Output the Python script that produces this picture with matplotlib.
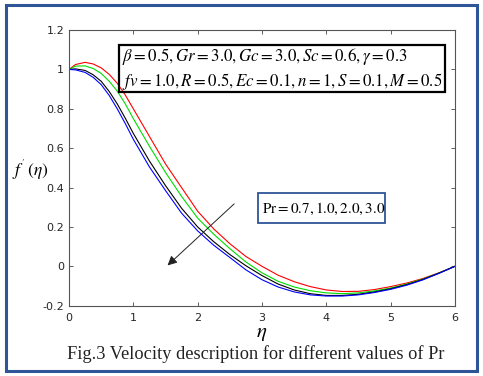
import matplotlib
matplotlib.use("Agg")
import matplotlib.pyplot as plt
from matplotlib.patches import Rectangle

eta = [0, 0.1, 0.25, 0.375, 0.5, 0.625, 0.75, 0.875, 1.0, 1.25, 1.5, 1.75, 2.0, 2.25, 2.5, 2.75, 3.0,
       3.25, 3.5, 3.75, 4.0, 4.25, 4.5, 4.75, 5.0, 5.25, 5.5, 5.75, 6.0]
f_pr07 = [1.0, 1.025, 1.036, 1.028, 1.008, 0.975, 0.93, 0.87, 0.80, 0.66, 0.52, 0.40, 0.28, 0.19, 0.115, 0.05, 0.0,
          -0.045, -0.078, -0.103, -0.12, -0.128, -0.127, -0.118, -0.103, -0.085, -0.062, -0.033, 0.0]
f_pr10 = [1.0, 1.017, 1.018, 1.005, 0.98, 0.94, 0.89, 0.825, 0.75, 0.61, 0.477, 0.355, 0.245, 0.163, 0.09, 0.022, -0.033,
          -0.076, -0.105, -0.124, -0.135, -0.139, -0.135, -0.125, -0.11, -0.09, -0.065, -0.034, 0.0]
f_pr20 = [1.0, 1.003, 0.995, 0.973, 0.94, 0.888, 0.825, 0.752, 0.675, 0.535, 0.41, 0.295, 0.20, 0.125, 0.06, 0.003, -0.047,
          -0.09, -0.12, -0.139, -0.148, -0.148, -0.142, -0.13, -0.114, -0.093, -0.067, -0.035, 0.0]
f_pr30 = [1.0, 0.998, 0.985, 0.96, 0.923, 0.868, 0.80, 0.725, 0.645, 0.505, 0.385, 0.27, 0.18, 0.107, 0.045, -0.018, -0.068,
          -0.105, -0.13, -0.145, -0.151, -0.151, -0.145, -0.133, -0.117, -0.096, -0.069, -0.036, 0.0]
series = [(f_pr07, "#FF0000"), (f_pr10, "#00DD00"), (f_pr20, "#000000"), (f_pr30, "#0000FF")]

xticks = [0, 1, 2, 3, 4, 5, 6]
yticks = [-0.2, 0, 0.2, 0.4, 0.6, 0.8, 1.0, 1.2]
yticklabels = ["-0.2", "0", "0.2", "0.4", "0.6", "0.8", "1", "1.2"]

plt.rcParams['mathtext.fontset'] = 'stix'

fig = plt.figure(figsize=(4.83, 3.76), dpi=100)
fig.patches.append(Rectangle((0.012, 0.012), 0.976, 0.976, transform=fig.transFigure,
                             fill=False, edgecolor="#2E5597", linewidth=2.2))
ax = fig.add_axes([0.1429, 0.187, 0.799, 0.733])

for ys, c in series:
    ax.plot(eta, ys, color=c, linewidth=0.8)

ax.set_xlim(0, 6)
ax.set_ylim(-0.2, 1.2)
ax.set_xticks(xticks)
ax.set_yticks(yticks)
ax.set_yticklabels(yticklabels)
ax.tick_params(direction='in', top=True, right=True, labelsize=8, colors='#444444',
               labelcolor='#262626', length=3, width=0.6)
ax.tick_params(axis='x', pad=5)
for s in ax.spines.values():
    s.set_color('#555555')
    s.set_linewidth(0.8)

ax.set_xlabel(r'$\eta$', fontsize=15, labelpad=0.5)
fig.text(0.025, 0.548, r"$f^{'}\,(\eta)$", fontsize=12.5, ha='left', va='center')

# parameter box
ax.add_patch(Rectangle((0.78, 0.885), 5.07, 0.239, fill=False, edgecolor='black',
                       linewidth=1.6, zorder=5))
ax.text(0.83, 1.064, r'$\beta=0.5,Gr=3.0,Gc=3.0,Sc=0.6,\gamma=0.3$', fontsize=12.2,
        ha='left', va='center', zorder=6)
ax.text(0.83, 0.94, r'$fv=1.0,R=0.5,Ec=0.1,n=1,S=0.1,M=0.5$', fontsize=12.2,
        ha='left', va='center', zorder=6)

# Pr box
ax.add_patch(Rectangle((2.94, 0.22), 1.98, 0.153, fill=False, edgecolor='#2E5597',
                       linewidth=1.3, zorder=5))
ax.text(3.0, 0.29, r'$\mathrm{Pr}=0.7,1.0,2.0,3.0$', fontsize=10.9,
        ha='left', va='center', zorder=6)

ax.annotate('', xy=(1.5, -0.005), xytext=(2.6, 0.327),
            arrowprops=dict(arrowstyle='-|>', color='#222222', lw=0.7,
                            mutation_scale=14))

fig.text(0.53, 0.058, 'Fig.3 Velocity description for different values of Pr',
         fontsize=13.2, family='Liberation Serif', ha='center', va='center', color='#222222')

fig.savefig('out.png', dpi=100)
